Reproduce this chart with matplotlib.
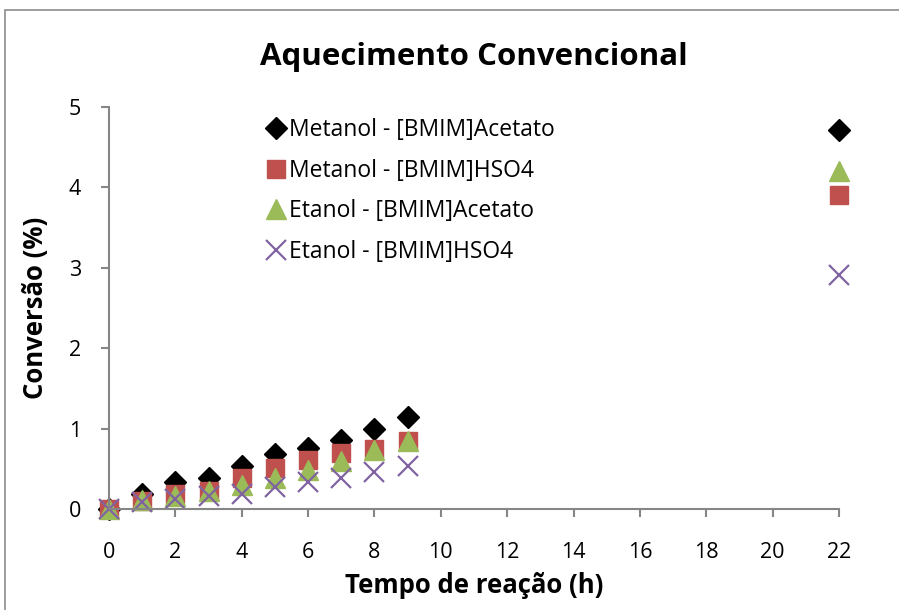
import matplotlib
matplotlib.use('Agg')
import matplotlib.pyplot as plt
from matplotlib.patches import Rectangle

plt.rcParams['font.family'] = ['Open Sans', 'DejaVu Sans']

tempo = [0, 1, 2, 3, 4, 5, 6, 7, 8, 9, 22]
met_acetato = [0.0, 0.19, 0.34, 0.39, 0.53, 0.69, 0.76, 0.86, 0.99, 1.15, 4.71]
met_hso4 = [0.0, 0.10, 0.19, 0.22, 0.39, 0.51, 0.61, 0.70, 0.75, 0.84, 3.90]
et_acetato = [0.0, 0.11, 0.16, 0.22, 0.30, 0.39, 0.48, 0.60, 0.74, 0.84, 4.20]
et_hso4 = [0.0, 0.09, 0.12, 0.16, 0.19, 0.27, 0.33, 0.39, 0.46, 0.53, 2.91]

x_ticks = list(range(0, 23, 2))
y_ticks = [0, 1, 2, 3, 4, 5]

fig = plt.figure(figsize=(8.99, 6.10), dpi=100)
ax = fig.add_axes([109 / 899, 101 / 610, 730 / 899, 402 / 610])

# chart border like the Excel chart area
fig.patches.append(Rectangle((5 / 899, -0.05), 1.0, 600 / 610 + 0.05,
                             transform=fig.transFigure, fill=False,
                             edgecolor='#8c8c8c', linewidth=1.2))

ax.plot(tempo, met_acetato, 'D', color='black', ms=11, clip_on=False,
        label='Metanol - [BMIM]Acetato')
ax.plot(tempo, met_hso4, 's', color='#C0504D', ms=13, clip_on=False,
        label='Metanol - [BMIM]HSO4')
ax.plot(tempo, et_acetato, '^', color='#9BBB59', ms=14, clip_on=False,
        label='Etanol - [BMIM]Acetato')
ax.plot(tempo, et_hso4, 'x', color='#8064A2', ms=14, mew=1.6, clip_on=False,
        label='Etanol - [BMIM]HSO4')

ax.set_xlim(0, 22)
ax.set_ylim(0, 5)
ax.set_xticks(x_ticks)
ax.set_yticks(y_ticks)

for side in ['top', 'right']:
    ax.spines[side].set_visible(False)
for side in ['left', 'bottom']:
    ax.spines[side].set_color('#868686')
    ax.spines[side].set_linewidth(1.5)
ax.tick_params(axis='both', direction='out', length=6, width=1.5, color='#868686',
               labelsize=15.5)
ax.tick_params(axis='y', pad=14)
ax.tick_params(axis='x', pad=18)

ax.set_title('Aquecimento Convencional', fontsize=22.5, fontweight='bold', pad=30)
ax.set_xlabel('Tempo de reação (h)', fontsize=18.5, fontweight='bold', labelpad=6)
ax.set_ylabel('Conversão (%)', fontsize=18.5, fontweight='bold', labelpad=14)

ax.legend(loc='upper left', bbox_to_anchor=(0.2, 1.0), frameon=False, fontsize=16.5,
          handlelength=0.8, handletextpad=0.2, labelspacing=0.72, borderaxespad=0.1)

plt.savefig('out.png', dpi=100)
